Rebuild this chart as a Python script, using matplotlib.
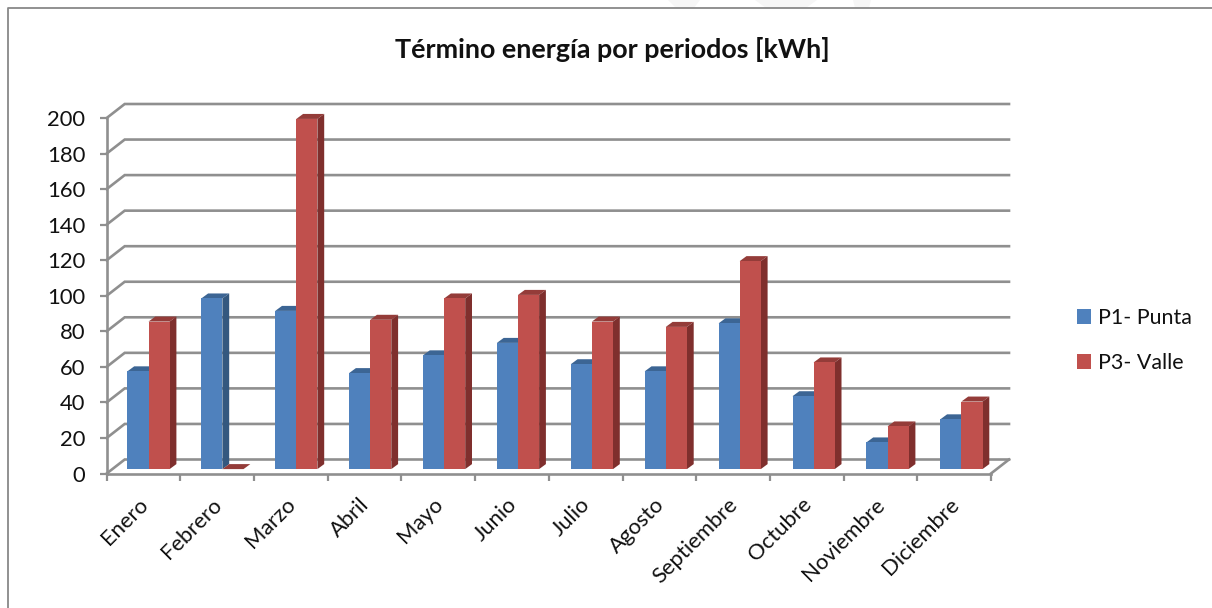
import matplotlib
matplotlib.use("Agg")
import matplotlib.pyplot as plt
from matplotlib.lines import Line2D
from matplotlib.patches import Patch, Polygon

plt.rcParams['font.family'] = ['Lato', 'DejaVu Sans']

# values
meses = ["Enero", "Febrero", "Marzo", "Abril", "Mayo", "Junio", "Julio",
         "Agosto", "Septiembre", "Octubre", "Noviembre", "Diciembre"]
punta = [55, 96, 89, 54, 64, 71, 59, 55, 82, 41, 15, 28]
valle = [83, 0, 197, 84, 96, 98, 83, 80, 117, 60, 24, 38]
y_ticks = list(range(0, 201, 20))

W, H = 1212, 608
GRID = "#8f8f8f"
TEXT = "#111111"
FS = 15.8

fig = plt.figure(figsize=(W / 100, H / 100), dpi=100)
# front plane of the fake 3D box, in pixels
left, right, bottom, top = 106.7, 991, 473.5, 118
ax = fig.add_axes([left / W, 1 - bottom / H, (right - left) / W, (bottom - top) / H])
ax.set_xlim(0, len(meses))
ax.set_ylim(0, 200)
ax.patch.set_visible(False)

px_x = len(meses) / (right - left)
px_y = 200 / (bottom - top)
depth_x, depth_y = 18 * px_x, 14 * px_y

# walls
for v in y_ticks:
    ax.plot([0, depth_x, len(meses) + depth_x], [v, v + depth_y, v + depth_y],
            color=GRID, lw=1.9, clip_on=False, zorder=1, solid_joinstyle="miter")
ax.plot([len(meses), len(meses) + depth_x], [0, depth_y], color=GRID, lw=1.9,
        clip_on=False, zorder=1)

for s in ["top", "right"]:
    ax.spines[s].set_visible(False)
for s in ["left", "bottom"]:
    ax.spines[s].set_color(GRID)
    ax.spines[s].set_linewidth(1.9)
    ax.spines[s].set_zorder(2)

ax.set_yticks(y_ticks)
ax.set_xticks(range(len(meses) + 1))
ax.set_xticklabels([])
ax.tick_params(axis="both", color=GRID, width=1.6, length=5, labelsize=FS,
               labelcolor=TEXT)
ax.tick_params(axis="y", pad=10.5)

for i, m in enumerate(meses):
    ax.annotate(m, (i + 0.5, 0), xytext=(-4, -15), textcoords="offset points",
                rotation=45, ha="right", va="top", rotation_mode="anchor",
                fontsize=FS, color=TEXT, annotation_clip=False)

# bars: front face plus top and side faces
bar_w = 21.1 * px_x
bar_step = 73.9 * px_x
start = 20.7 * px_x
base = 4.4 * px_y
bar_dx, bar_dy = 6.8 * px_x, 5 * px_y
colors = [("#4F81BD", "#3C6594", "#34587F"), ("#C0504D", "#943C39", "#7F2F2D")]


def draw_bar(x, h, front, topc, side, z):
    y0, y1 = base, base + h
    ax.add_patch(Polygon([(x, y1), (x + bar_dx, y1 + bar_dy), (x + bar_w + bar_dx, y1 + bar_dy),
                          (x + bar_w, y1)], closed=True, fc=topc, ec="none", clip_on=False, zorder=z))
    if h > 0:
        ax.add_patch(Polygon([(x + bar_w, y0), (x + bar_w + bar_dx, y0 + bar_dy),
                              (x + bar_w + bar_dx, y1 + bar_dy), (x + bar_w, y1)],
                             closed=True, fc=side, ec="none", clip_on=False, zorder=z))
        ax.fill_between([x, x + bar_w], y0, y1, color=front, lw=0, clip_on=False, zorder=z)


for i in range(len(meses)):
    draw_bar(i * bar_step + start, punta[i], *colors[0], 3)
    draw_bar(i * bar_step + start + bar_w, valle[i], *colors[1], 4)

fig.text(612.5 / W, 1 - 49 / H, "Término energía por periodos [kWh]", ha="center", va="center",
         fontsize=19.4, fontweight="bold", color=TEXT)

handles = [Patch(fc=colors[0][0], label="P1- Punta"), Patch(fc=colors[1][0], label="P3- Valle")]
fig.legend(handles=handles, loc="upper left", bbox_to_anchor=(1077 / W, 1 - 308 / H),
           bbox_transform=fig.transFigure, frameon=False, fontsize=15.4, labelcolor=TEXT,
           handlelength=0.66, handleheight=0.66, handletextpad=0.3, labelspacing=1.17,
           borderpad=0, borderaxespad=0)

# faint watermark cut off above the frame
for xs in [(668, 700, 694, 676), (755, 817, 806, 766), (853, 871, 869, 855)]:
    fig.add_artist(Polygon([(xs[0] / W, 1), (xs[1] / W, 1), (xs[2] / W, 1 - 8 / H), (xs[3] / W, 1 - 8 / H)],
                           closed=True, fc="#f6f6f6", ec="none", transform=fig.transFigure))

# chart frame, the right and bottom sides are cut off in the source
fig.add_artist(Line2D([7.5 / W, 7.5 / W, 1], [0, 1 - 8 / H, 1 - 8 / H], color="#888888", lw=1.3))

fig.savefig("out.png", dpi=100)
